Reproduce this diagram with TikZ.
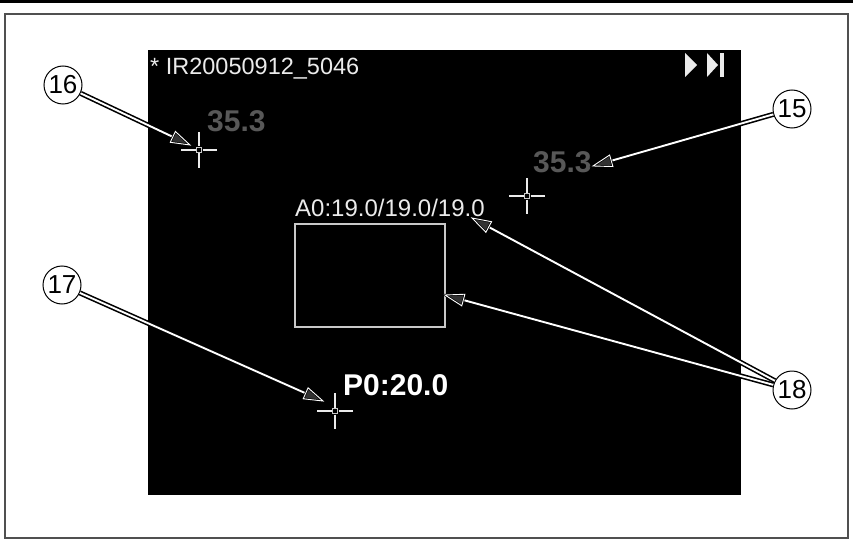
\documentclass[tikz,border=0pt]{standalone}
\usepackage{fontspec}
\setmainfont{Liberation Sans}
\usetikzlibrary{calc}
\definecolor{framegray}{RGB}{80,80,80}
\definecolor{tempgray}{RGB}{88,88,88}
\definecolor{tipgray}{RGB}{50,50,50}
\definecolor{screentext}{RGB}{235,235,235}
\definecolor{boxgray}{RGB}{200,200,200}
\newcommand\fsz[1]{\fontsize{#1}{#1}\selectfont}
\newcommand\leaderarrow[2]{%
  \draw[black, line width=1.6pt, double=white, double distance=1.9pt, shorten >=16pt] (#1) -- (#2);
  \filldraw[fill=tipgray, draw=black, line width=0.7pt, double=white, double distance=0.9pt, line join=miter]
    (#2) -- ($(#2)!19pt!(#1)!6pt!90:(#2)$) -- ($(#2)!19pt!(#1)!6pt!-90:(#2)$) -- cycle;
}
\tikzset{
  callout/.style={circle, draw=black, line width=1pt, fill=white, minimum size=38pt, inner sep=0pt, font=\fsz{26}},
  screenlabel/.style={anchor=base west, inner sep=0pt, text=screentext},
  crosshair/.pic={
    \draw[screentext, line width=2.2pt] (-18,0) -- (-3.5,0) (3.5,0) -- (18,0) (0,-18) -- (0,-3.5) (0,3.5) -- (0,18);
    \draw[boxgray, line width=1.3pt] (-2.7,-2.7) rectangle (2.7,2.7);
  }
}
\begin{document}
\begin{tikzpicture}[x=1pt,y=-1pt]
\useasboundingbox (0,0) rectangle (853,540);
\fill[black] (0,0) rectangle (853,3);
\draw[framegray, line width=1.5pt] (5,14) rectangle (848,538);
% screen
\fill[black] (148,50) rectangle (741,495);
\node[screenlabel, font=\fsz{23.5}] (title) at (150,75) {* IR20050912\_5046};
% play icon
\fill[screentext] (685,53) -- (697,65) -- (685,77) -- cycle;
\fill[screentext] (707,53) -- (718,65) -- (707,77) -- cycle;
\fill[screentext] (719.5,53) rectangle (723.5,77);
% spot markers
\pic at (199,150) {crosshair};
\pic at (527,196) {crosshair};
\pic at (335,411) {crosshair};
\node[screenlabel, text=tempgray, font=\bfseries\fsz{30}] (temp16) at (207,132) {35.3};
\node[screenlabel, text=tempgray, font=\bfseries\fsz{30}] (temp15) at (533,172) {35.3};
\node[screenlabel, font=\fsz{24}] (area) at (295,216) {A0:19.0/19.0/19.0};
\draw[boxgray, line width=2.5pt] (295,224) rectangle (445,327);
\node[screenlabel, text=white, font=\bfseries\fsz{30}] (p0) at (343,395) {P0:20.0};
% callouts
\node[callout] (c16) at (63,85) {16};
\node[callout] (c15) at (792,109) {15};
\node[callout] (c17) at (62,285) {17};
\node[callout] (c18) at (792,390) {18};
\coordinate (t16) at (190,145);
\coordinate (t15) at (593,166);
\coordinate (t17) at (323,401);
\coordinate (t18a) at (472,218);
\coordinate (t18b) at (445,295);
\leaderarrow{c16}{t16}
\leaderarrow{c15}{t15}
\leaderarrow{c17}{t17}
\leaderarrow{c18}{t18a}
\leaderarrow{c18}{t18b}
\end{tikzpicture}
\end{document}
